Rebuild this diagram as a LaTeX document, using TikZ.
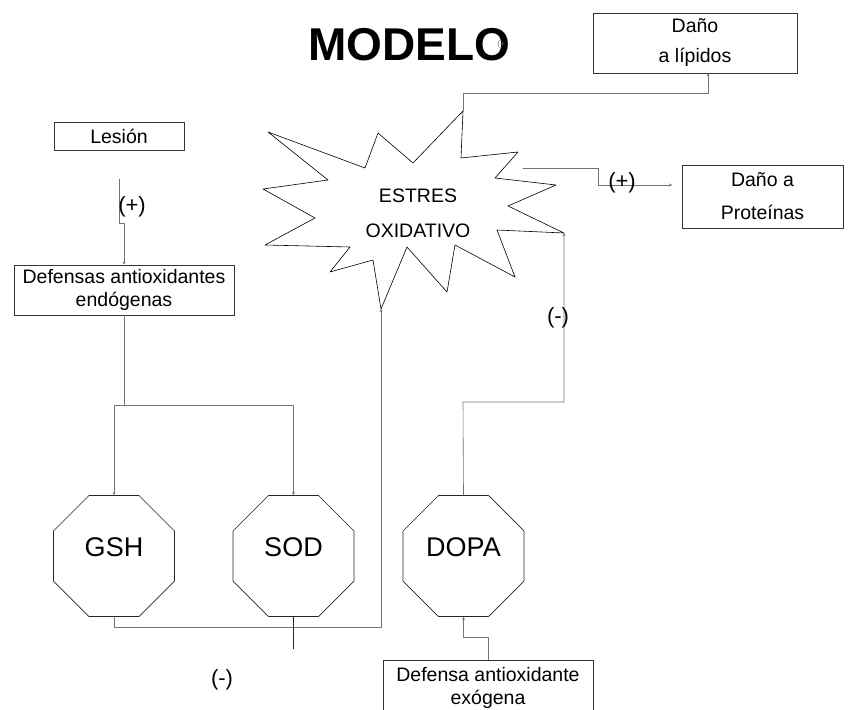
\documentclass[tikz,border=0pt]{standalone}
\usepackage{fontspec}
\setmainfont{Liberation Sans}
\usetikzlibrary{arrows.meta}
\usetikzlibrary{shapes.geometric}
\usetikzlibrary{positioning}

\tikzset{
  caja/.style={draw=black!80, line width=0.6pt, align=center, inner sep=0pt, font=\fontsize{19.5}{23}\selectfont},
  octa/.style={draw=black!85, line width=0.6pt, regular polygon, regular polygon sides=8, minimum size=131pt, inner sep=0pt, font=\fontsize{27}{27}\selectfont, text height=19pt, text depth=19pt},
  conector/.style={draw=black!55, line width=0.6pt},
  punta/.style={-{Stealth[length=3pt,width=3pt]}},
  signo/.style={font=\fontsize{22}{22}\selectfont},
}

\begin{document}
\begin{tikzpicture}[x=1pt,y=-1pt,line cap=round,line join=round]
\useasboundingbox (0,0) rectangle (848,709);

\node[font=\fontsize{46}{46}\selectfont\bfseries, anchor=base] (titulo) at (409,60) {MODELO};
\node[font=\fontsize{8}{8}\selectfont, text=black!60] (marca) at (501,44) {(+};

\node[caja, minimum width=204pt, minimum height=60pt, font=\fontsize{19.5}{30}\selectfont] (lipidos) at (695,43) {Daño\\a lípidos};
\node[caja, minimum width=161pt, minimum height=63pt, font=\fontsize{19.5}{33}\selectfont] (proteinas) at (762.5,196.5) {Daño a\\Proteínas};
\node[caja, minimum width=130pt, minimum height=28pt] (lesion) at (119,136) {Lesión};
\node[caja, minimum width=220pt, minimum height=50pt] (defensas) at (124,290) {Defensas antioxidantes\\endógenas};
\node[caja, minimum width=210pt, minimum height=56pt] (exogena) at (488,688) {Defensa antioxidante\\exógena};

\node[octa] (gsh) at (114,556) {GSH};
\node[octa] (sod) at (293.5,556) {SOD};
\node[octa] (dopa) at (463.5,556) {DOPA};

\coordinate (est-sup) at (463,111);
\coordinate (est-der) at (564,233);
\coordinate (est-inf) at (381,309);
\draw[line width=0.6pt] (est-sup) -- (461,158) -- (518,152) -- (495,178) -- (556,185) -- (508,206) -- (est-der) -- (497,230) -- (515,277) -- (455,245) -- (447,292) -- (407,247) -- (est-inf) -- (373,260) -- (330,272) -- (350,247) -- (265,245) -- (315,218) -- (263,189) -- (328,180) -- (268,132) -- (365,168) -- (378,133) -- (413,163) -- cycle;
\node[font=\fontsize{19.5}{35}\selectfont, align=center] (estres) at (418,213) {ESTRES\\OXIDATIVO};

\coordinate (est-arr) at (523,168);
\coordinate (prot-in) at (672,185);
\coordinate (les-out) at (119,179);

\draw[conector,punta] (est-sup) -- ++(0,-18) -| ([xshift=13pt]lipidos.south);
\draw[conector,punta] (est-arr) -- (598,168) -- (598,185) -- (prot-in);
\node[signo] (mas-prot) at (622,183) {(+)};

\draw[conector,punta] (les-out) -- (119,223) -- (124,223) -- (defensas.north);
\node[signo] (mas-les) at (132,207) {(+)};

\draw[conector] (defensas.south) -- (124,405);
\draw[conector,{Stealth[length=3pt,width=3pt]}-{Stealth[length=3pt,width=3pt]}] (gsh.north) -- (gsh.north |- 0,405) -- (sod.north |- 0,405) -- (sod.north);

\draw[conector,punta] (gsh.south) -- ++(0,10) -| (est-inf);
\draw[conector,draw=black!85] (sod.south) -- ++(0,32) coordinate (sod-out);
\node[signo] (menos-sod) at (222,680) {(-)};

\draw[conector,punta] (dopa.north) -- (463,402) -| (est-der);
\node[signo] (menos-dopa) at (558,318) {(-)};

\draw[conector,punta] (exogena.north) -- ++(0,-22) -| (dopa.south);
\end{tikzpicture}
\end{document}
